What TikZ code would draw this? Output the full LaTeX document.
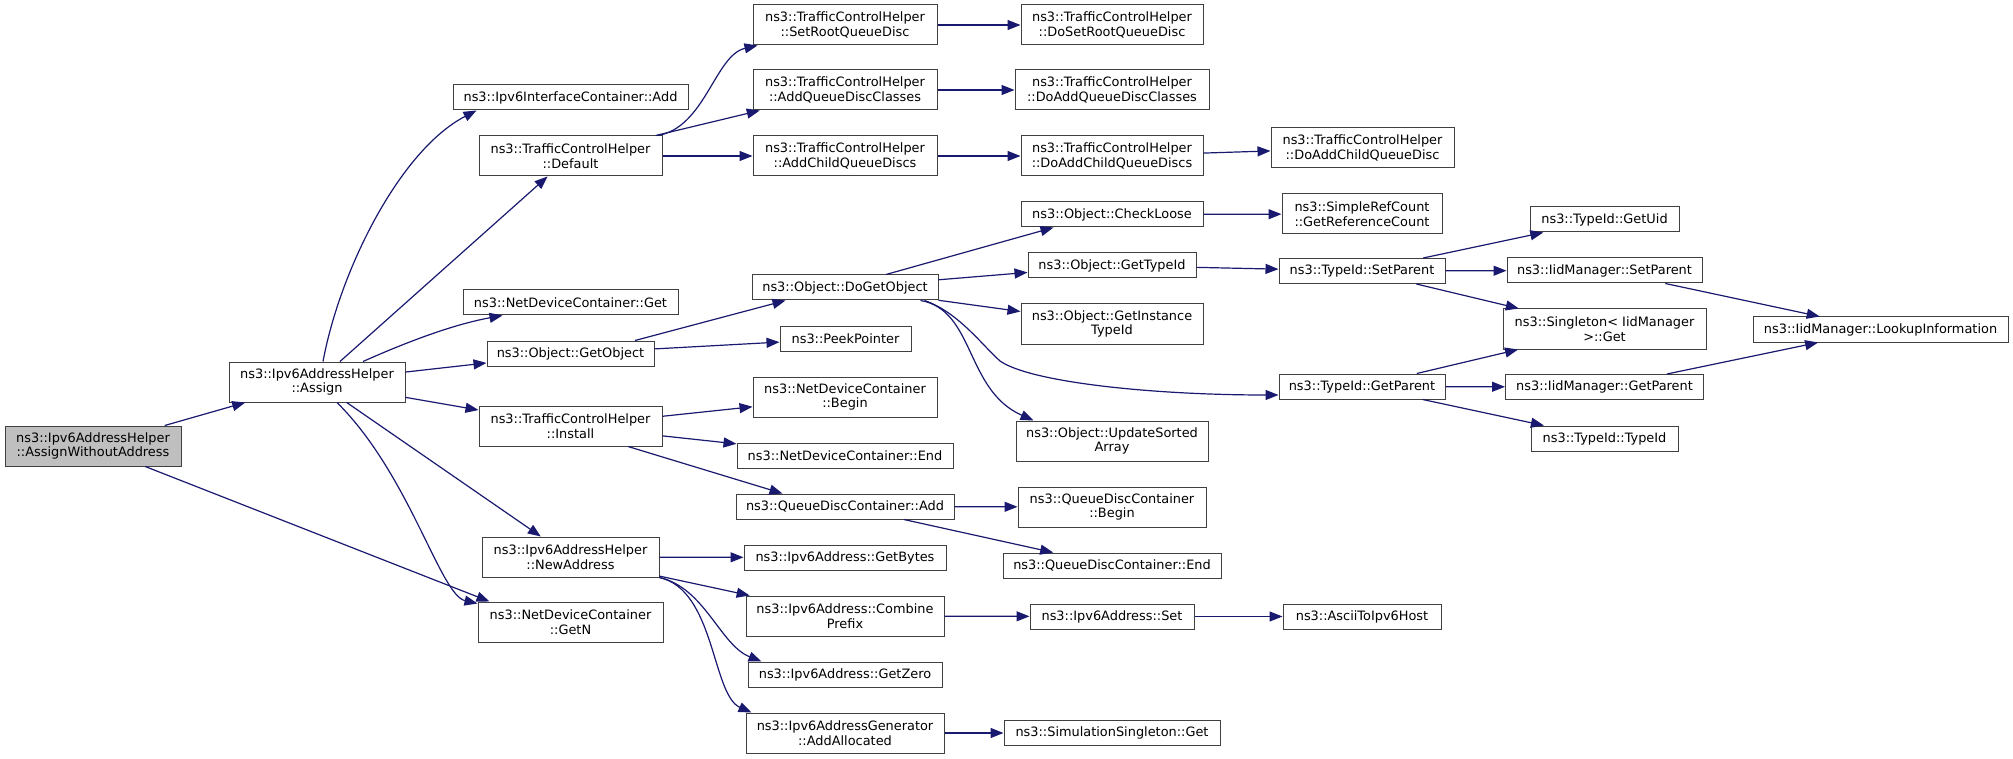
\documentclass[tikz,border=0pt]{standalone}
\usepackage{fontspec}
\setmainfont{DejaVu Sans}
\usetikzlibrary{arrows.meta,calc}
\definecolor{edgec}{HTML}{191970}
\begin{document}
\begin{tikzpicture}[x=0.5pt,y=-0.5pt,
  box/.style={draw=black!75, line width=0.5pt, rectangle, inner sep=0pt, align=center,
    font=\fontsize{6.45}{7.3}\selectfont, fill=white},
  edge/.style={draw=edgec, line width=0.6pt, -{Triangle[length=6.5pt,width=5pt]}}]
\fill[white] (0,0) rectangle (2013,759);
\useasboundingbox (0,0) rectangle (2013,759);
% column 1
\node[box, fill=black!25, minimum width=88pt, minimum height=20pt] (awa) at (93,446) {ns3::Ipv6AddressHelper\\::AssignWithoutAddress};
% column 2
\node[box, minimum width=88pt, minimum height=20pt] (assign) at (317,382) {ns3::Ipv6AddressHelper\\::Assign};
% column 3
\node[box, minimum width=117.5pt, minimum height=12.5pt] (iadd) at (570.5,97.5) {ns3::Ipv6InterfaceContainer::Add};
\node[box, minimum width=91.5pt, minimum height=20pt] (default) at (570.5,156) {ns3::TrafficControlHelper\\::Default};
\node[box, minimum width=107.5pt, minimum height=12.5pt] (ndget) at (570.5,302.5) {ns3::NetDeviceContainer::Get};
\node[box, minimum width=83.5pt, minimum height=12.5pt] (getobj) at (570.5,353.5) {ns3::Object::GetObject};
\node[box, minimum width=91.5pt, minimum height=20pt] (install) at (570.5,426) {ns3::TrafficControlHelper\\::Install};
\node[box, minimum width=88.5pt, minimum height=20pt] (newaddr) at (570.5,557) {ns3::Ipv6AddressHelper\\::NewAddress};
\node[box, minimum width=92.5pt, minimum height=20pt] (getn) at (570.5,622) {ns3::NetDeviceContainer\\::GetN};
% column 4
\node[box, minimum width=92pt, minimum height=20pt] (setroot) at (845,25) {ns3::TrafficControlHelper\\::SetRootQueueDisc};
\node[box, minimum width=92pt, minimum height=20pt] (addqdc) at (845,90) {ns3::TrafficControlHelper\\::AddQueueDiscClasses};
\node[box, minimum width=92pt, minimum height=20pt] (addcqd) at (845,156) {ns3::TrafficControlHelper\\::AddChildQueueDiscs};
\node[box, minimum width=93pt, minimum height=12.5pt] (dogetobj) at (845,287.5) {ns3::Object::DoGetObject};
\node[box, minimum width=65.5pt, minimum height=12.5pt] (peek) at (845.5,338.5) {ns3::PeekPointer};
\node[box, minimum width=92pt, minimum height=20pt] (ndbegin) at (845,397) {ns3::NetDeviceContainer\\::Begin};
\node[box, minimum width=108pt, minimum height=12.5pt] (ndend) at (845,455.5) {ns3::NetDeviceContainer::End};
\node[box, minimum width=109pt, minimum height=12.5pt] (qdadd) at (845,506.5) {ns3::QueueDiscContainer::Add};
\node[box, minimum width=101pt, minimum height=12.5pt] (getbytes) at (845,557.5) {ns3::Ipv6Address::GetBytes};
\node[box, minimum width=99pt, minimum height=20pt] (combine) at (845,616) {ns3::Ipv6Address::Combine\\Prefix};
\node[box, minimum width=97pt, minimum height=12.5pt] (getzero) at (845,674.5) {ns3::Ipv6Address::GetZero};
\node[box, minimum width=99pt, minimum height=20pt] (addalloc) at (845,733) {ns3::Ipv6AddressGenerator\\::AddAllocated};
% column 5
\node[box, minimum width=91pt, minimum height=20pt] (dosetroot) at (1112,25) {ns3::TrafficControlHelper\\::DoSetRootQueueDisc};
\node[box, minimum width=97pt, minimum height=20pt] (doaddqdc) at (1112,90) {ns3::TrafficControlHelper\\::DoAddQueueDiscClasses};
\node[box, minimum width=91pt, minimum height=20pt] (doaddcqd) at (1112,156) {ns3::TrafficControlHelper\\::DoAddChildQueueDiscs};
\node[box, minimum width=91pt, minimum height=12.5pt] (checkloose) at (1112,214.5) {ns3::Object::CheckLoose};
\node[box, minimum width=84pt, minimum height=12.5pt] (gettypeid) at (1112,265.5) {ns3::Object::GetTypeId};
\node[box, minimum width=91pt, minimum height=20pt] (getinst) at (1112,324) {ns3::Object::GetInstance\\TypeId};
\node[box, minimum width=96pt, minimum height=20pt] (updsorted) at (1112,441) {ns3::Object::UpdateSorted\\Array};
\node[box, minimum width=94pt, minimum height=20pt] (qdbegin) at (1112,507) {ns3::QueueDiscContainer\\::Begin};
\node[box, minimum width=109pt, minimum height=12.5pt] (qdend) at (1112,565.5) {ns3::QueueDiscContainer::End};
\node[box, minimum width=82pt, minimum height=12.5pt] (set) at (1112,616.5) {ns3::Ipv6Address::Set};
\node[box, minimum width=108pt, minimum height=12.5pt] (simsing) at (1112,733) {ns3::SimulationSingleton::Get};
% column 6
\node[box, minimum width=91.5pt, minimum height=20pt] (doaddcqd1) at (1362.5,148) {ns3::TrafficControlHelper\\::DoAddChildQueueDisc};
\node[box, minimum width=80pt, minimum height=20pt] (simpleref) at (1362,214) {ns3::SimpleRefCount\\::GetReferenceCount};
\node[box, minimum width=83pt, minimum height=12.5pt] (tsetparent) at (1362,271) {ns3::TypeId::SetParent};
\node[box, minimum width=83pt, minimum height=12.5pt] (tgetparent) at (1362,386.5) {ns3::TypeId::GetParent};
\node[box, minimum width=79pt, minimum height=12.5pt] (ascii) at (1362,616.5) {ns3::AsciiToIpv6Host};
% column 7
\node[box, minimum width=74.5pt, minimum height=12.5pt] (getuid) at (1604.5,219.5) {ns3::TypeId::GetUid};
\node[box, minimum width=97.5pt, minimum height=12.5pt] (iidsetparent) at (1604.5,270.5) {ns3::IidManager::SetParent};
\node[box, minimum width=101.5pt, minimum height=20pt] (singleton) at (1604.5,329) {ns3::Singleton< IidManager\\ >::Get};
\node[box, minimum width=99pt, minimum height=12.5pt] (iidgetparent) at (1604.5,387) {ns3::IidManager::GetParent};
\node[box, minimum width=73.5pt, minimum height=12.5pt] (typeidtypeid) at (1604.5,438.5) {ns3::TypeId::TypeId};
% column 8
\node[box, minimum width=127.5pt, minimum height=12.5pt] (lookup) at (1880.5,329.5) {ns3::IidManager::LookupInformation};
% edges
\draw[edge] (awa) -- (assign);
\draw[edge] (awa) -- ($(getn.north west)+(12,0)$);
\draw[edge] ($(assign.north)+(6,0)$) .. controls (340,270) and (400,150) .. ($(iadd.south west)+(24,0)$);
\draw[edge] (assign) -- (default);
\draw[edge] ($(assign.north)+(46,0)$) .. controls (400,345) and (450,325) .. ($(ndget.south west)+(40,0)$);
\draw[edge] (assign) -- (getobj);
\draw[edge] (assign) -- (install);
\draw[edge] (assign) -- (newaddr);
\draw[edge] ($(assign.south)+(20,0)$) .. controls (410,475) and (440,595) .. ($(getn.north west)+(0,2)$);
\draw[edge] ($(default.north east)+(-5,0)$) .. controls (705,128) and (715,55) .. ($(setroot.south west)+(5,0)$);
\draw[edge] (default) -- (addqdc);
\draw[edge] (default) -- (addcqd);
\draw[edge] (setroot) -- (dosetroot);
\draw[edge] (addqdc) -- (doaddqdc);
\draw[edge] (addcqd) -- (doaddcqd);
\draw[edge] (doaddcqd) -- (doaddcqd1);
\draw[edge] ($(getobj.north)+(64.5,0)$) -- ($(dogetobj.south west)+(34,0)$);
\draw[edge] (getobj) -- (peek);
\draw[edge] ($(dogetobj.north)+(41,0)$) -- ($(checkloose.south west)+(33,0)$);
\draw[edge] (dogetobj) -- (gettypeid);
\draw[edge] (dogetobj) -- (getinst);
\draw[edge] ($(dogetobj.south east)+(-14,0)$) .. controls (958,312) and (982,345) .. (1000,361) .. controls (1030,382) and (1150,395) .. ($(tgetparent.west)+(0,8.5)$);
\draw[edge] ($(dogetobj.south east)+(-18,0)$) .. controls (975,310) and (965,390) .. ($(updsorted.north west)+(18,0)$);
\draw[edge] (install) -- (ndbegin);
\draw[edge] (install) -- (ndend);
\draw[edge] ($(install.south)+(57.5,0)$) -- ($(qdadd.north west)+(47,0)$);
\draw[edge] (qdadd) -- (qdbegin);
\draw[edge] (qdadd) -- (qdend);
\draw[edge] (newaddr) -- (getbytes);
\draw[edge] (newaddr) -- (combine);
\draw[edge] (newaddr.south east) .. controls (705,588) and (720,645) .. ($(getzero.north west)+(14,0)$);
\draw[edge] (newaddr.south east) .. controls (715,590) and (712,695) .. ($(addalloc.north west)+(6,0)$);
\draw[edge] (combine) -- (set);
\draw[edge] (set) -- (ascii);
\draw[edge] (addalloc) -- (simsing);
\draw[edge] (checkloose) -- (simpleref);
\draw[edge] (gettypeid) -- (tsetparent);
\draw[edge] (tsetparent) -- (getuid);
\draw[edge] (tsetparent) -- (iidsetparent);
\draw[edge] (tsetparent) -- (singleton);
\draw[edge] (iidsetparent) -- (lookup);
\draw[edge] (tgetparent) -- (singleton);
\draw[edge] (tgetparent) -- (iidgetparent);
\draw[edge] (iidgetparent) -- (lookup);
\draw[edge] (tgetparent) -- (typeidtypeid);
\end{tikzpicture}
\end{document}
